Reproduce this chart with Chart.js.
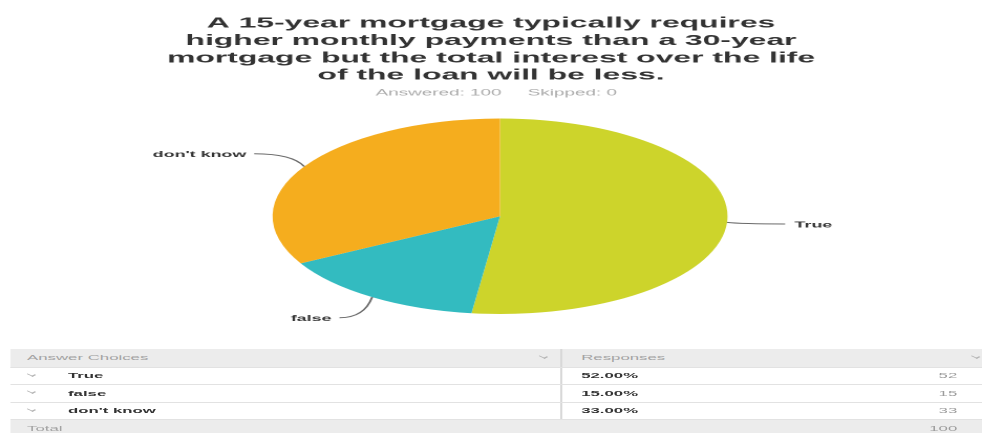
<!DOCTYPE html>
<html>
<head>
<meta charset="utf-8">
<script src="https://cdn.jsdelivr.net/npm/chart.js@4.4.0/dist/chart.umd.min.js"></script>
<style>
  html, body { margin: 0; padding: 0; background: #fff; overflow: hidden; }
  /* whole survey card is laid out narrow, then widened */
  #page {
    position: absolute; left: 0; top: 0; width: 468px; height: 433px;
    transform: scaleX(2.0983); transform-origin: 0 0;
    font-family: "Liberation Sans", Arial, sans-serif;
  }
  #pie { position: absolute; left: 0; top: 0; }
  #responses { position: absolute; left: 4.8px; top: 348.5px; width: 470px; font-size: 8px; }
  .row { position: relative; height: 17.6px; box-sizing: border-box; border-bottom: 1px solid #e2e2e2; }
  .row.head { height: 19px; }
  .row.head, .row.total { background: #ececec; color: #a3a3a3; }
  .row span { position: absolute; top: 0; bottom: 0; display: flex; align-items: center; white-space: nowrap; }
  .divider { left: 262px; width: 0; border-left: 1px solid #d8d8d8; }
  .row.total .divider { display: none; }
  .lbl { left: 8.1px; }
  .choice { left: 27.6px; font-weight: bold; color: #333; }
  .pct { left: 272.2px; font-weight: bold; color: #333; }
  .count { right: 18.6px; color: #9c9c9c; }
  .chev::before {
    content: ""; display: block; width: 3px; height: 3px;
    border-right: 1px solid #b5b5b5; border-bottom: 1px solid #b5b5b5;
    transform: translateY(-1.5px) rotate(45deg) scaleY(0.6);
  }
</style>
</head>
<body>
<div id="page">
  <canvas id="pie"></canvas>
  <div id="responses"></div>
</div>
<script>
const titleLines = [
  'A 15-year mortgage typically requires',
  'higher monthly payments than a 30-year',
  'mortgage but the total interest over the life',
  'of the loan will be less.'
];
const answerChoices = ['True', 'false', "don't know"];
const responseCounts = [52, 15, 33];
const sliceColors = ['#cdd42b', '#33bbc0', '#f5ad1e'];
const answered = 100;
const skipped = 0;

const FONT = '"Liberation Sans", Arial, sans-serif';
const STRETCH_X = 1.109;   // pie is drawn as a flattened ellipse
const PIE_SHIFT = 4.3;     // pie sits a little right of the title

// squash the arcs into an ellipse, then draw outside labels with connectors
const ellipsePie = {
  id: 'ellipsePie',
  beforeDatasetsDraw(chart) {
    const arc = chart.getDatasetMeta(0).data[0];
    const ctx = chart.ctx;
    ctx.save();
    ctx.translate(arc.x + PIE_SHIFT, arc.y);
    ctx.scale(STRETCH_X, 1);
    ctx.translate(-arc.x, -arc.y);
  },
  afterDatasetsDraw(chart) {
    const ctx = chart.ctx;
    ctx.restore();
    chart.getDatasetMeta(0).data.forEach((arc, i) => {
      const a = (arc.startAngle + arc.endAngle) / 2;
      const cos = Math.cos(a), sin = Math.sin(a);
      const cx = arc.x + PIE_SHIFT, cy = arc.y, r = arc.outerRadius;
      const at = d => [cx + (r + d) * cos * STRETCH_X, cy + (r + d) * sin];
      const [x0, y0] = at(0);
      const [x1] = at(6);
      const [x2, y2] = at(25);
      ctx.save();
      ctx.beginPath();
      ctx.moveTo(x0, y0);
      ctx.quadraticCurveTo(x1, y2, x2, y2);
      ctx.strokeStyle = '#6a6a6a';
      ctx.lineWidth = 1;
      ctx.stroke();
      ctx.fillStyle = '#333';
      ctx.font = 'bold 8.5px ' + FONT;
      ctx.textBaseline = 'middle';
      ctx.textAlign = cos < 0 ? 'right' : 'left';
      ctx.fillText(chart.data.labels[i], x2 + (cos < 0 ? -3.8 : 4.5), y2 + 1);
      ctx.restore();
    });
  }
};

const canvas = document.getElementById('pie');
canvas.width = 468;
canvas.height = 335;

new Chart(canvas, {
  type: 'pie',
  data: {
    labels: answerChoices,
    datasets: [{
      data: responseCounts,
      backgroundColor: sliceColors,
      borderWidth: 0,
      hoverOffset: 0
    }]
  },
  options: {
    responsive: false,
    animation: false,
    devicePixelRatio: 2,
    layout: { padding: { top: 0, bottom: 21, left: 0, right: 0 } },
    plugins: {
      legend: { display: false },
      tooltip: { enabled: false },
      title: {
        display: true,
        text: titleLines,
        color: '#333',
        font: { family: FONT, size: 15.2, weight: 'bold', lineHeight: 1.138 },
        padding: { top: 14.9, bottom: 3.4 }
      },
      subtitle: {
        display: true,
        text: '  Answered: ' + answered + '     Skipped: ' + skipped,
        color: '#ababab',
        font: { family: FONT, size: 9, lineHeight: 1.2 },
        padding: { top: 0, bottom: 20.2 }
      }
    }
  },
  plugins: [ellipsePie]
});

// response table under the chart
const total = responseCounts.reduce((s, v) => s + v, 0);
let rows = '<div class="row head"><span class="lbl">Answer Choices</span>' +
  '<span class="chev" style="left:252.6px"></span><span class="divider"></span>' +
  '<span class="pct" style="font-weight:normal;color:#a3a3a3">Responses</span>' +
  '<span class="chev" style="left:458.4px"></span></div>';
answerChoices.forEach((c, i) => {
  rows += '<div class="row"><span class="chev" style="left:8.5px"></span>' +
    '<span class="choice">' + c + '</span><span class="divider"></span>' +
    '<span class="pct">' + (responseCounts[i] / total * 100).toFixed(2) + '%</span>' +
    '<span class="count">' + responseCounts[i] + '</span></div>';
});
rows += '<div class="row total"><span class="lbl">Total</span><span class="divider"></span>' +
  '<span class="count">' + total + '</span></div>';
document.getElementById('responses').innerHTML = rows;
</script>
</body>
</html>
